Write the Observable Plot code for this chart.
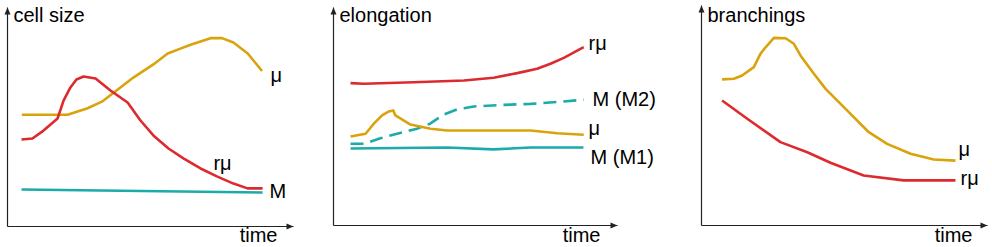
<!DOCTYPE html>
<html>
<head>
<meta charset="utf-8">
<script src="https://cdn.jsdelivr.net/npm/d3@7"></script>
<script src="https://cdn.jsdelivr.net/npm/@observablehq/plot@0.6"></script>
<style>
  html, body { margin: 0; padding: 0; background: #fff; }
  #chart { position: relative; width: 992px; height: 247px; background: #fff; overflow: hidden; }
  #chart > div { position: absolute; top: 0; }
  svg { overflow: visible; }
</style>
</head>
<body>
<div id="chart"></div>
<script>
// ---------- Panel titles and axis label ----------
const panelTitles = ["cell size", "elongation", "branchings"];
const axisLabel = "time";

// ---------- Panel 1: cell size (time 0..100, value 0..100) ----------
const cellMuT = [5, 9, 21, 28, 33, 37, 44, 51, 56, 60, 64, 71, 75, 79, 84, 89];
const cellMuV = [51, 51, 51, 54, 57, 61, 68, 74, 79, 81, 83, 86, 86, 84, 79, 71];
const cellRmuT = [4.9, 8.7, 12.6, 17.5, 19.6, 22.0, 24.1, 26.6, 30.8, 36.0, 42.0, 46.5, 51.0, 56.3, 61.5, 67.5, 73.4, 79.0, 83.9, 89.2];
const cellRmuV = [39.7, 40.2, 43.8, 49.3, 57.5, 63.5, 67.1, 68.5, 67.6, 62.1, 56.6, 48.4, 41.6, 35.6, 31.1, 26.5, 22.8, 19.6, 17.4, 17.4];
const cellMT = [4.9, 46.5, 89.2];
const cellMV = [16.9, 16.2, 15.5];
const cellLabelText = ["μ", "rμ", "M"];
const cellLabelT = [92, 72, 91.6];
const cellLabelV = [66.2, 26.0, 13.2];

// ---------- Panel 2: elongation ----------
const elRmuT = [6.0, 10.7, 28.2, 45.9, 56.4, 64.7, 71.7, 76.4, 81.1, 88.1];
const elRmuV = [65.3, 65.0, 65.7, 66.5, 67.8, 69.9, 71.9, 74.2, 76.9, 81.8];
const elM2T = [6.0, 10.7, 16.5, 22.4, 29.4, 34.0, 38.8, 43.6, 49.4, 57.6, 69.4, 81.1, 88.1];
const elM2V = [37.5, 37.5, 40.0, 42.1, 44.4, 46.7, 50.9, 53.3, 54.6, 55.2, 55.8, 56.9, 57.7];
const elMuT = [6.0, 11.3, 14.2, 17.1, 19.5, 21.0, 21.8, 27.1, 34.2, 40.0, 51.8, 69.4, 78.8, 88.1];
const elMuV = [40.8, 42.1, 46.7, 50.5, 52.3, 52.8, 50.5, 46.3, 44.4, 43.6, 43.6, 43.6, 42.3, 41.6];
const elM1T = [6.0, 40.1, 56.3, 69.4, 88.0];
const elM1V = [35.3, 35.8, 34.9, 35.8, 35.8];
const elLabelText = ["rμ", "M (M2)", "μ", "M (M1)"];
const elLabelT = [89.8, 91.2, 89.8, 90.5];
const elLabelV = [80.3, 54.6, 41.7, 28.4];

// ---------- Panel 3: branchings ----------
const brMuT = [7.2, 11.3, 14.2, 18.3, 20.6, 22.4, 25.3, 29.4, 32.3, 34.6, 39.3, 43.4, 50.9, 58.5, 64.9, 73.1, 81.2, 88.8];
const brMuV = [66.4, 66.7, 68.2, 72.0, 78.0, 81.0, 85.3, 85.1, 82.6, 77.3, 69.0, 62.1, 52.3, 42.4, 37.1, 32.6, 30.0, 29.5];
const brRmuT = [7.2, 16.0, 27.6, 37.0, 45.1, 56.7, 70.7, 88.8];
const brRmuV = [56.8, 48.5, 37.9, 33.3, 28.5, 22.7, 20.5, 20.5];
const brLabelText = ["μ", "rμ"];
const brLabelT = [89.9, 90.6];
const brLabelV = [31.4, 18.6];

// ---------- Styling ----------
const GOLD = "#d9a30c", RED = "#dd2a2e", TEAL = "#1aabaa", AXIS = "#222";
const FONT = "'Liberation Sans', Arial, Helvetica, sans-serif";
const FS = 20;

const rows = (t, v) => t.map((x, i) => ({t: x, v: v[i]}));
const labelRows = (txt, t, v) => txt.map((s, i) => ({text: s, t: t[i], v: v[i]}));

const panels = [
  {
    left: 0, width: 330, margin: {left: 7, right: 37, top: 7, bottom: 21},
    title: panelTitles[0], titleDy: 14.5, timeDx: -16, timeDy: 15,
    series: [
      {data: rows(cellMuT, cellMuV), color: GOLD},
      {data: rows(cellRmuT, cellRmuV), color: RED},
      {data: rows(cellMT, cellMV), color: TEAL}
    ],
    labels: labelRows(cellLabelText, cellLabelT, cellLabelV)
  },
  {
    left: 330, width: 330, margin: {left: 3, right: 43, top: 7, bottom: 22},
    title: panelTitles[1], titleDy: 14.5, timeDx: -17, timeDy: 16,
    series: [
      {data: rows(elRmuT, elRmuV), color: RED},
      {data: rows(elM2T, elM2V), color: TEAL, dash: "13,7"},
      {data: rows(elMuT, elMuV), color: GOLD},
      {data: rows(elM1T, elM1V), color: TEAL}
    ],
    labels: labelRows(elLabelText, elLabelT, elLabelV)
  },
  {
    left: 660, width: 332, margin: {left: 41, right: 5, top: 5, bottom: 22},
    title: panelTitles[2], titleDy: 16.5, timeDx: -15, timeDy: 16,
    series: [
      {data: rows(brMuT, brMuV), color: GOLD},
      {data: rows(brRmuT, brRmuV), color: RED}
    ],
    labels: labelRows(brLabelText, brLabelT, brLabelV)
  }
];

const axes = [{t1: 0, v1: 0, t2: 100, v2: 0}, {t1: 0, v1: 0, t2: 0, v2: 100}];
const heads = [{t: 100, v: 0, rot: 90}, {t: 0, v: 100, rot: 0}];

const root = document.getElementById("chart");
for (const p of panels) {
  const marks = [
    Plot.link(axes, {x1: "t1", y1: "v1", x2: "t2", y2: "v2", stroke: AXIS, strokeWidth: 1.2}),
    Plot.vector(heads, {x: "t", y: "v", rotate: "rot", length: 7, shape: "spike", r: 3, anchor: "end", fill: AXIS, stroke: "none"}),
    ...p.series.map(s => Plot.line(s.data, {x: "t", y: "v", stroke: s.color, strokeWidth: 2.6, strokeDasharray: s.dash, strokeLinejoin: "round", strokeLinecap: "butt"})),
    Plot.text(p.labels, {x: "t", y: "v", text: "text", textAnchor: "start", lineAnchor: "bottom", fill: "#000", fontSize: FS}),
    Plot.text([p.title], {frameAnchor: "top-left", text: d => d, textAnchor: "start", lineAnchor: "bottom", dx: 6, dy: p.titleDy, fill: "#000", fontSize: FS}),
    Plot.text([axisLabel], {frameAnchor: "bottom-right", text: d => d, textAnchor: "end", lineAnchor: "bottom", dx: p.timeDx, dy: p.timeDy, fill: "#000", fontSize: FS})
  ];
  const svg = Plot.plot({
    width: p.width,
    height: 247,
    marginLeft: p.margin.left,
    marginRight: p.margin.right,
    marginTop: p.margin.top,
    marginBottom: p.margin.bottom,
    x: {domain: [0, 100], axis: null},
    y: {domain: [0, 100], axis: null},
    style: {fontFamily: FONT, fontSize: FS + "px", background: "transparent", overflow: "visible"},
    marks
  });
  const wrap = document.createElement("div");
  wrap.style.left = p.left + "px";
  wrap.style.width = p.width + "px";
  wrap.appendChild(svg);
  root.appendChild(wrap);
}
</script>
</body>
</html>
